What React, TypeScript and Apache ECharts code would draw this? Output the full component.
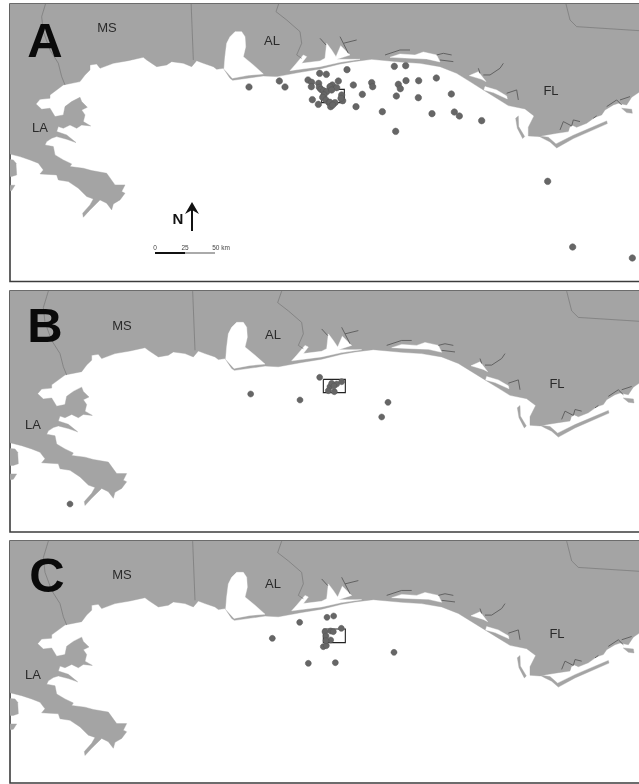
import React, { useEffect, useRef } from "react";
import * as echarts from "echarts";

type Pt = number[];
const east = (pts: Pt[]): Pt[] => pts.map(([x, y]) => [x + 960, y]);
const bend = (pts: Pt[]): Pt[] => pts.map(([x, y]) => [x + 1200, y + 120]);

// Map outlines (units: a third of a pixel).
const mainLand: Pt[] = [
  [20, -30], [1930, -30], [1930, 277],
  ...bend([[717, 157], [695, 172], [680, 195], [655, 190], [640, 195], [615, 210], [605, 225], [585, 232], [560, 250], [530, 262], [515, 255], [505, 275], [470, 280], [440, 285], [415, 290], [385, 288], [385, 262], [402, 228], [375, 207], [325, 197], [290, 175], [250, 150], [210, 125], [170, 100], [120, 80], [60, 70], [0, 66]]),
  ...east([[155, 178], [100, 185], [60, 192], [0, 207]]),
  [900, 217], [830, 230], [790, 228], [698, 241], [690, 235], [670, 205],
  [650, 208], [640, 200], [610, 190], [590, 182], [575, 200], [550, 190], [515, 185], [500, 195], [470, 200], [440, 180], [430, 172], [385, 182], [340, 190], [300, 205], [290, 192], [270, 195], [270, 210], [255, 225], [240, 245], [190, 255], [150, 285], [150, 295], [120, 298], [108, 312], [125, 328], [150, 325], [165, 350], [190, 345], [195, 320], [215, 305], [240, 292], [245, 305], [262, 322], [245, 330], [255, 345], [250, 365], [272, 378], [245, 375], [230, 385], [210, 375], [190, 385], [175, 380], [170, 395], [200, 405], [228, 428], [200, 418], [170, 410], [155, 415], [140, 425], [135, 435], [160, 440], [165, 465], [190, 480], [215, 492], [210, 500], [250, 505], [275, 512], [320, 520], [345, 555], [375, 555], [365, 575], [375, 580], [360, 600], [340, 612], [335, 630], [320, 610], [300, 600], [270, 630], [250, 652], [248, 640], [270, 615], [280, 597], [260, 590], [235, 565], [205, 545], [175, 540], [170, 525], [120, 522], [130, 510], [115, 490], [90, 480], [60, 470], [20, 460],
];
const chandeleurNorth: Pt[] = [[20, 478], [40, 480], [48, 490], [50, 525], [35, 530], [20, 530]];
const chandeleurSouth: Pt[] = [[20, 556], [45, 556], [35, 572], [20, 575]];
const stGeorgeBarrier: Pt[] = bend([[415, 288], [445, 292], [468, 312], [520, 286], [620, 243], [622, 251], [520, 296], [470, 324], [450, 306], [430, 296]]);
const dogIsland: Pt[] = bend([[665, 205], [695, 208], [697, 220], [680, 218]]);
const stJosephSpit: Pt[] = bend([[368, 296], [352, 265], [347, 235], [355, 228], [356, 260], [374, 290]]);
const landShapes = [mainLand, chandeleurNorth, chandeleurSouth];
const mobileBay: Pt[] = [[705, 95], [725, 95], [735, 110], [737, 140], [730, 170], [760, 195], [790, 222], [745, 226], [697, 235], [672, 207], [675, 170], [680, 130], [690, 110]];
const pensacolaBay: Pt[] = [[870, 212], [885, 195], [910, 165], [920, 170], [905, 190], [960, 183], [975, 175], [980, 130], [995, 150], [1008, 170], [1022, 137], [1050, 165], [1010, 178], [1080, 178], [1020, 187], [960, 200], [900, 208]];
const choctawBay: Pt[] = bend([[-30, 52], [0, 42], [45, 45], [70, 36], [110, 45], [120, 66], [80, 57], [30, 55]]);
const standrewBay: Pt[] = bend([[208, 107], [235, 95], [245, 108], [258, 125], [245, 118]]);
const stJoeSound: Pt[] = bend([[255, 140], [290, 150], [320, 168], [322, 177], [280, 158], [252, 150]]);
const bayInlet: Pt[] = bend([[510, 262], [525, 262], [518, 285], [505, 285]]);
const waterShapes = [mobileBay, pensacolaBay, choctawBay, standrewBay, stJoeSound, bayInlet];
const barrierShapes = [stGeorgeBarrier, dogIsland, stJosephSpit];
const stateLines: Pt[][] = [
  [[140, 0], [125, 50], [130, 95], [150, 150], [175, 190], [185, 230], [195, 255]],
  [[573, 0], [580, 180]],
  [[840, 0], [828, 35], [860, 60], [900, 95], [905, 130], [890, 165], [905, 175]],
  east([[735, 0], [750, 60], [770, 80], [957, 92]]),
];
const riverLines: Pt[][] = [
  east([[60, 110], [70, 130], [110, 120]]),
  east([[70, 130], [85, 160]]),
  east([[195, 165], [240, 150], [270, 150]]),
  bend([[110, 45], [130, 40], [155, 45]]),
  bend([[120, 60], [160, 65]]),
  bend([[240, 100], [235, 85]]),
  bend([[250, 105], [270, 105], [300, 85], [310, 70]]),
  bend([[320, 160], [350, 150], [355, 180]]),
  bend([[480, 270], [490, 245], [515, 258], [520, 240], [540, 245]]),
  bend([[580, 235], [590, 228]]),
  bend([[620, 200], [650, 180], [665, 195]]),
  bend([[660, 180], [690, 170]]),
  east([[0, 115], [18, 135]]),
];

// Stations per panel (page pixels x 3).
const stationsA: Pt[] = [[747, 261], [838, 243], [855, 261], [924, 240], [935, 247], [959, 220], [979, 223], [1041, 209], [934, 260], [956, 250], [958, 262], [963, 268], [1015, 243], [997, 255], [1010, 263], [990, 260], [970, 272], [980, 275], [995, 270], [972, 285], [968, 292], [978, 300], [987, 308], [1025, 285], [1028, 302], [1023, 295], [937, 299], [955, 313], [990, 307], [1005, 308], [992, 320], [998, 315], [1060, 255], [1087, 283], [1068, 320], [1115, 248], [1118, 260], [1147, 335], [1183, 199], [1217, 197], [1195, 253], [1201, 266], [1218, 242], [1189, 288], [1256, 242], [1255, 293], [1309, 234], [1354, 282], [1296, 341], [1363, 336], [1378, 348], [1445, 362], [1187, 394], [1643, 544], [1718, 741], [1897, 774]];
const stationsB: Pt[] = [[210, 1512], [752, 1182], [900, 1200], [959, 1132], [1164, 1207], [1145, 1251], [990, 1160], [985, 1172], [1003, 1175], [1010, 1152], [1025, 1145], [995, 1150], [1002, 1158]];
const stationsC: Pt[] = [[817, 1915], [899, 1867], [981, 1852], [1001, 1848], [1024, 1885], [970, 1940], [979, 1937], [925, 1990], [1006, 1988], [1182, 1957], [975, 1895], [992, 1893], [1000, 1895], [978, 1908], [992, 1920], [978, 1922]];
const studyBoxes: Pt[][] = [[[965, 268], [1033, 308]], [[970, 1138], [1036, 1178]], [[970, 1887], [1036, 1928]]];

const labelsA = [["MS", 107, 27], ["AL", 272, 40], ["LA", 40, 127], ["FL", 551, 90]];
const labelsB = [["MS", 122, 325], ["AL", 273, 334], ["LA", 33, 424], ["FL", 557, 383]];
const labelsC = [["MS", 122, 574], ["AL", 273, 583], ["LA", 33, 674], ["FL", 557, 633]];
const panelLetters = [["A", 45, 40], ["B", 45, 325], ["C", 47, 575]];
const scaleTicks = [["0", 155, 247], ["25", 185, 247], ["50 km", 221, 247]];

const panels = [
  { top: 4, bottom: 281.5, mapX: [30, 1917], mapY: [12, 845], stations: stationsA, size: 6.5, box: studyBoxes[0] },
  { top: 291, bottom: 532, mapX: [25, 1912], mapY: [-0.4, 732.6], stations: stationsB, size: 6, box: studyBoxes[1] },
  { top: 541, bottom: 783, mapX: [25, 1912], mapY: [-0.4, 735.6], stations: stationsC, size: 6, box: studyBoxes[2] },
];

const LAND = "#a4a4a4";
const FONT = "Liberation Sans";

function shapeSeries(shapes: Pt[][], kind: string, color: string, p: number, width = 0, z = 2) {
  return {
    type: "custom",
    xAxisIndex: p * 2,
    yAxisIndex: p * 2,
    coordinateSystem: "cartesian2d",
    clip: true,
    silent: true,
    z,
    data: shapes.map((_, i) => [i]),
    encode: { x: -1, y: -1 },
    renderItem: (params: any, api: any) => {
      const points = shapes[params.dataIndex].map((q) => api.coord(q));
      return kind === "polygon"
        ? { type: "polygon", shape: { points }, style: { fill: color, stroke: color, lineWidth: 0.4 } }
        : { type: "polyline", shape: { points }, style: { fill: "none", stroke: color, lineWidth: width } };
    },
  };
}

export default function App() {
  const ref = useRef<HTMLDivElement>(null);
  useEffect(() => {
    const chart = echarts.init(ref.current!, undefined, { renderer: "svg" });
    const grid: any[] = [], xAxis: any[] = [], yAxis: any[] = [], series: any[] = [];
    panels.forEach((pn, p) => {
      grid.push({ left: 10, top: pn.top, width: 640, height: pn.bottom - pn.top, outerBoundsMode: "none", containLabel: false, show: true, borderColor: "#3c3c3c", borderWidth: 1.6, backgroundColor: "#fff" });
      const hidden = { type: "value", show: false, gridIndex: p, scale: true };
      xAxis.push({ ...hidden, min: pn.mapX[0], max: pn.mapX[0] + 1920 });
      yAxis.push({ ...hidden, min: pn.mapY[1], max: pn.mapY[0] });
      xAxis.push({ ...hidden, min: 30, max: 1950 });
      yAxis.push({ ...hidden, min: pn.bottom * 3, max: pn.top * 3 });
      series.push(shapeSeries(landShapes, "polygon", LAND, p, 0, 2));
      series.push(shapeSeries(waterShapes, "polygon", "#ffffff", p, 0, 3));
      series.push(shapeSeries(barrierShapes, "polygon", LAND, p, 0, 4));
      series.push(shapeSeries(stateLines, "line", "#777777", p, 0.7, 5));
      series.push(shapeSeries(riverLines, "line", "#5a5a5a", p, 0.9, 5));
      const [[x0, y0], [x1, y1]] = pn.box;
      const boxPts = [[x0, y0], [x1, y0], [x1, y1], [x0, y1], [x0, y0]];
      series.push({
        ...shapeSeries([boxPts], "line", "#222222", p, 1.1, 6),
        xAxisIndex: p * 2 + 1,
        yAxisIndex: p * 2 + 1,
      });
      series.push({
        type: "scatter",
        xAxisIndex: p * 2 + 1,
        yAxisIndex: p * 2 + 1,
        data: pn.stations,
        symbolSize: pn.size,
        silent: true,
        z: 7,
        itemStyle: { color: "#666666", borderColor: "#555555", borderWidth: 0.5, opacity: 1 },
      });
    });
    const text = (t: string, x: number, y: number, size: number, weight = "normal", fill = "#2a2a2a") => ({
      type: "text",
      x,
      y,
      z: 20,
      style: { text: t, fill, font: `${weight} ${size}px "${FONT}"`, textAlign: "center", textVerticalAlign: "middle" },
    });
    const graphic: any[] = [];
    [...labelsA, ...labelsB, ...labelsC].forEach((l) => graphic.push(text(l[0] as string, l[1] as number, l[2] as number, 13)));
    panelLetters.forEach((l) => graphic.push(text(l[0] as string, l[1] as number, l[2] as number, 49, "bold", "#0a0a0a")));
    graphic.push(text("N", 178, 218, 15, "bold", "#111"));
    graphic.push({ type: "line", z: 20, shape: { x1: 192, y1: 208, x2: 192, y2: 231 }, style: { stroke: "#111", lineWidth: 2 } });
    graphic.push({ type: "polygon", z: 20, shape: { points: [[192, 202], [199, 214], [192, 210], [185, 214]] }, style: { fill: "#111" } });
    graphic.push({ type: "rect", z: 20, shape: { x: 155, y: 252, width: 30, height: 2 }, style: { fill: "#111" } });
    graphic.push({ type: "rect", z: 20, shape: { x: 185, y: 252, width: 30, height: 2 }, style: { fill: "#aaa" } });
    scaleTicks.forEach((l) => graphic.push(text(l[0] as string, l[1] as number, l[2] as number, 6.5, "normal", "#444")));
    chart.setOption({ animation: false, backgroundColor: "#fff", grid, xAxis, yAxis, series, graphic });
    return () => chart.dispose();
  }, []);
  return <div ref={ref} style={{ position: "absolute", left: 0, top: 0, width: 639, height: 784, filter: "blur(0.5px)" }} />;
}
